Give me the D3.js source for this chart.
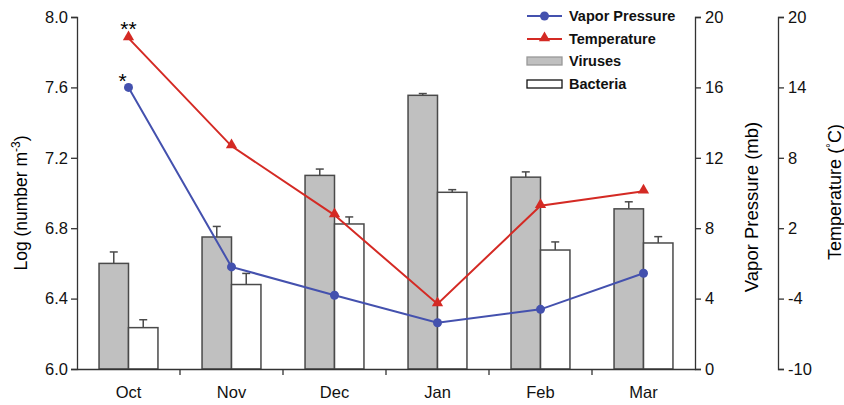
<!DOCTYPE html>
<html><head><meta charset="utf-8">
<script src="https://cdn.jsdelivr.net/npm/d3@7"></script>
<style>body{margin:0;background:#fff}svg{display:block;font-family:"Liberation Sans",Arial,sans-serif}</style>
</head><body><svg id="c" width="844" height="405"></svg>
<script>
const months = ["Oct","Nov","Dec","Jan","Feb","Mar"];
const viruses = [6.60, 6.75, 7.10, 7.555, 7.09, 6.91];
const virusErr = [0.065, 0.06, 0.036, 0.01, 0.03, 0.04];
const bacteria = [6.235, 6.48, 6.824, 7.004, 6.676, 6.716];
const bacteriaErr = [0.045, 0.063, 0.04, 0.015, 0.046, 0.036];
const vaporPressure = [16.0, 5.8, 4.19, 2.63, 3.39, 5.44];
const temperature = [18.2, 9.0, 3.12, -4.46, 3.92, 5.14];
const leftTicks = [6.0, 6.4, 6.8, 7.2, 7.6, 8.0];
const vpTicks = [0, 4, 8, 12, 16, 20];
const tempTicks = [-10, -4, 2, 8, 14, 20];

const svg = d3.select("#c");
const L = 77, R = 695, T = 17, B = 369, TA = 778;
const x = d3.scaleBand().domain(months).range([L, R]);
const y = d3.scaleLinear().domain([6, 8]).range([B, T]);
const yVP = d3.scaleLinear().domain([0, 20]).range([B, T]);
const yT = d3.scaleLinear().domain([-10, 20]).range([B, T]);
const bw = x.bandwidth() * 0.286;
const cx = m => x(m) + x.bandwidth() / 2;
const stroke = "#4a4a4a";

// bars
const g = svg.append("g");
function bars(vals, errs, off, fill) {
  const gg = g.append("g");
  months.forEach((m, i) => {
    const x0 = cx(m) + off;
    const xc = x0 + bw / 2;
    gg.append("line").attr("x1", xc).attr("x2", xc).attr("y1", y(vals[i])).attr("y2", y(vals[i] + errs[i])).attr("stroke", stroke).attr("stroke-width", 1.5);
    gg.append("line").attr("x1", xc - 4).attr("x2", xc + 4).attr("y1", y(vals[i] + errs[i])).attr("y2", y(vals[i] + errs[i])).attr("stroke", stroke).attr("stroke-width", 1.5);
    gg.append("rect").attr("x", x0).attr("y", y(vals[i])).attr("width", bw).attr("height", B - y(vals[i]))
      .attr("fill", fill).attr("stroke", stroke).attr("stroke-width", 1.5);
  });
}
bars(viruses, virusErr, -bw, "#c0c0c0");
bars(bacteria, bacteriaErr, 0, "#ffffff");

// lines
const blue = "#4451ae", red = "#d42a24";
const vpLine = d3.line().x((d, i) => cx(months[i])).y(d => yVP(d));
const tLine = d3.line().x((d, i) => cx(months[i])).y(d => yT(d));
svg.append("path").attr("d", tLine(temperature)).attr("fill", "none").attr("stroke", red).attr("stroke-width", 2);
svg.append("path").attr("d", vpLine(vaporPressure)).attr("fill", "none").attr("stroke", blue).attr("stroke-width", 2);
const tri = d3.symbol().type(d3.symbolTriangle).size(55);
temperature.forEach((d, i) => {
  svg.append("path").attr("d", tri()).attr("transform", `translate(${cx(months[i])},${yT(d) - 1})`).attr("fill", red);
});
vaporPressure.forEach((d, i) => {
  svg.append("circle").attr("cx", cx(months[i])).attr("cy", yVP(d)).attr("r", 4.5).attr("fill", blue);
});
svg.append("text").attr("x", cx(months[0])).attr("y", yT(temperature[0]) - 2).attr("text-anchor", "middle").attr("font-size", 21).text("**");
svg.append("text").attr("x", cx(months[0]) - 6).attr("y", yVP(vaporPressure[0]) + 1).attr("text-anchor", "middle").attr("font-size", 21).text("*");

// axes
const plain = d => String(d);
function styleAxis(sel) {
  sel.selectAll("path,line").attr("stroke", "#333").attr("stroke-width", 1.3);
  sel.selectAll("text").attr("font-size", 16.5).attr("fill", "#111").attr("font-family", '"Liberation Sans",Arial,sans-serif');
}
svg.append("g").attr("transform", `translate(${L},0)`)
  .call(d3.axisLeft(y).tickValues(leftTicks).tickFormat(d3.format(".1f")).tickSizeOuter(0).tickSize(6).tickPadding(3)).call(styleAxis);
svg.append("g").attr("transform", `translate(${R},0)`)
  .call(d3.axisRight(yVP).tickValues(vpTicks).tickFormat(plain).tickSizeOuter(0).tickSize(6).tickPadding(4)).call(styleAxis);
svg.append("g").attr("transform", `translate(${TA},0)`)
  .call(d3.axisRight(yT).tickValues(tempTicks).tickFormat(plain).tickSizeOuter(0).tickSize(6).tickPadding(4)).call(styleAxis);
svg.append("g").attr("transform", `translate(0,${B})`)
  .call(d3.axisBottom(x).tickSize(0).tickPadding(17).tickSizeOuter(0)).call(styleAxis);
// band boundary ticks
const bounds = months.slice(1).map(m => x(m));
svg.append("g").selectAll("line").data(bounds).join("line")
  .attr("x1", d => d).attr("x2", d => d).attr("y1", B).attr("y2", B + 6).attr("stroke", "#333").attr("stroke-width", 1.3);

// axis titles
svg.append("text").attr("transform", `translate(27,${(T + B) / 2 + 10}) rotate(-90)`).attr("text-anchor", "middle").attr("font-size", 17.5)
  .html('Log (number m<tspan dy="-7" font-size="12">-3</tspan><tspan dy="7">)</tspan>');
svg.append("text").attr("transform", `translate(758,207) rotate(-90)`).attr("text-anchor", "middle").attr("font-size", 18.5).text("Vapor Pressure (mb)");
svg.append("text").attr("transform", `translate(841,192) rotate(-90)`).attr("text-anchor", "middle").attr("font-size", 18)
  .html('Temperature (<tspan dy="-6" font-size="12">°</tspan><tspan dy="6">C)</tspan>');

// legend
const legend = [
  {name: "Vapor Pressure", type: "line", color: blue, marker: "circle"},
  {name: "Temperature", type: "line", color: red, marker: "tri"},
  {name: "Viruses", type: "rect", fill: "#c0c0c0"},
  {name: "Bacteria", type: "rect", fill: "#fff"}
];
const ly = [16, 39, 61, 84];
legend.forEach((d, i) => {
  const gg = svg.append("g").attr("transform", `translate(527,${ly[i]})`);
  if (d.type === "line") {
    gg.append("line").attr("x1", 0).attr("x2", 35).attr("stroke", d.color).attr("stroke-width", 2);
    if (d.marker === "circle") gg.append("circle").attr("cx", 17.5).attr("r", 4.5).attr("fill", d.color);
    else gg.append("path").attr("d", tri()).attr("transform", "translate(17.5,-1)").attr("fill", d.color);
  } else {
    gg.append("rect").attr("x", 0).attr("y", -4).attr("width", 35).attr("height", 8).attr("fill", d.fill).attr("stroke", i === 3 ? "#111" : "#999").attr("stroke-width", 1.3);
  }
  gg.append("text").attr("x", 42).attr("y", 5).attr("font-size", 14.5).attr("font-weight", "bold").attr("fill", "#111").text(d.name);
});
</script></body></html>
